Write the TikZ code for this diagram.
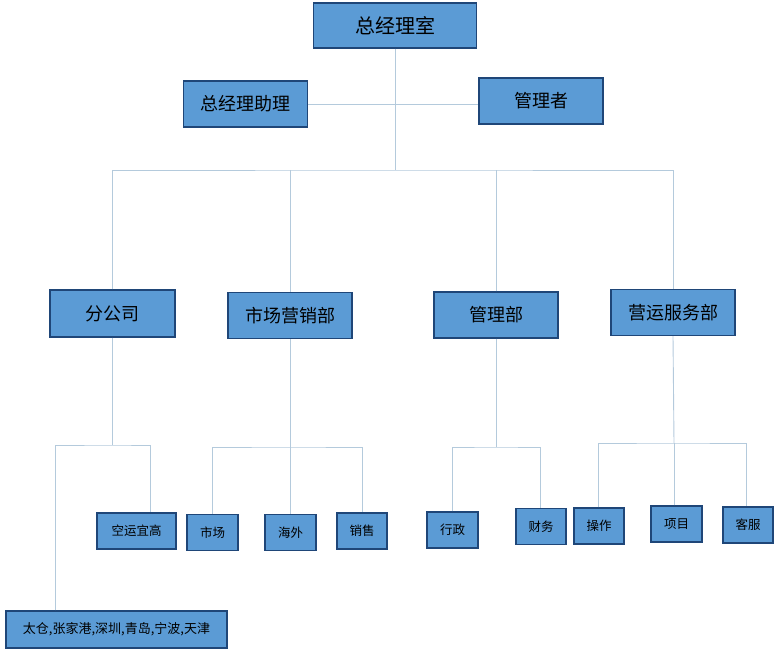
\documentclass[tikz,border=0pt]{standalone}
\usepackage{fontspec}
\newfontfamily\cjk{Noto Sans CJK SC}
\usetikzlibrary{positioning}
\definecolor{boxfill}{HTML}{5B9BD5}
\definecolor{boxline}{HTML}{1F4678}
\definecolor{linkline}{HTML}{B4CADC}

\begin{document}
\begin{tikzpicture}[x=1pt,y=-1pt,
  unit/.style={draw=boxline,line width=1.3pt,fill=boxfill,inner sep=0pt},
  head/.style={unit,minimum width=163pt,minimum height=45pt,font=\cjk\fontsize{20}{20}\selectfont},
  dept/.style={unit,minimum width=124pt,minimum height=46pt,font=\cjk\fontsize{18}{18}\selectfont},
  team/.style={unit,minimum width=50pt,minimum height=36pt,font=\cjk\fontsize{12.5}{13}\selectfont},
  link/.style={draw=linkline,line width=0.9pt}
]
\useasboundingbox (0,0) rectangle (774,652);
% top
\node[head] (top) at (395,25.5) {总经理室};
\node[dept] (assist) at (245.5,104) {总经理助理};
\node[dept] (manager) at (541,101) {管理者};
% departments
\node[dept,minimum width=125pt,minimum height=47pt] (branch) at (112.5,313.5) {分公司};
\node[dept] (market) at (290,315.5) {市场营销部};
\node[dept] (admin) at (496,315) {管理部};
\node[dept] (ops) at (673,312.5) {营运服务部};
% teams
\node[team,minimum width=79pt] (air) at (136.5,531) {空运宜高};
\node[team,minimum width=221pt,minimum height=37pt,font=\cjk\fontsize{13}{13}\selectfont] (cities) at (116.5,629.5) {太仓,张家港,深圳,青岛,宁波,天津};
\node[team,minimum width=51pt] (mkt) at (212.5,532.5) {市场};
\node[team,minimum width=51pt] (abroad) at (290.5,532.5) {海外};
\node[team] (sale) at (362,531) {销售};
\node[team,minimum width=51pt] (office) at (452.5,530) {行政};
\node[team] (finance) at (541,526.5) {财务};
\node[team] (operate) at (599,526) {操作};
\node[team,minimum width=51pt] (project) at (676.5,524) {项目};
\node[team] (service) at (748,525) {客服};

% links
\coordinate (bus) at (395,170);
\draw[link] (assist.east) -- (manager.west |- assist.east);
\draw[link] (top.south) -- (bus);
\draw[link] (branch.north) |- (bus) -| (ops.north);
\draw[link] (market.north) -- (market.north |- bus);
\draw[link] (admin.north) -- (admin.north |- bus);

\coordinate (branchjoint) at (112.5,445);
\draw[link] (branch.south) -- (branchjoint);
\draw[link] ([xshift=50pt]cities.north west) |- (branchjoint) -| ([xshift=14pt]air.north);

\coordinate (marketjoint) at (290,447);
\draw[link] (market.south) -- (marketjoint);
\draw[link] (mkt.north) |- (marketjoint) -| (sale.north);
\draw[link] (abroad.north) -- (abroad.north |- marketjoint);

\coordinate (adminjoint) at (496,447);
\draw[link] (admin.south) -- (adminjoint);
\draw[link] (office.north) |- (adminjoint) -| ([xshift=-1pt]finance.north);

\coordinate (opsjoint) at (674,443);
\draw[link] (ops.south) -- (opsjoint);
\draw[link] ([xshift=-1pt]operate.north) |- (opsjoint) -| ([xshift=-2pt]service.north);
\draw[link] ([xshift=-2.5pt]project.north) -- ([xshift=-2.5pt]project.north |- opsjoint);
\end{tikzpicture}
\end{document}
